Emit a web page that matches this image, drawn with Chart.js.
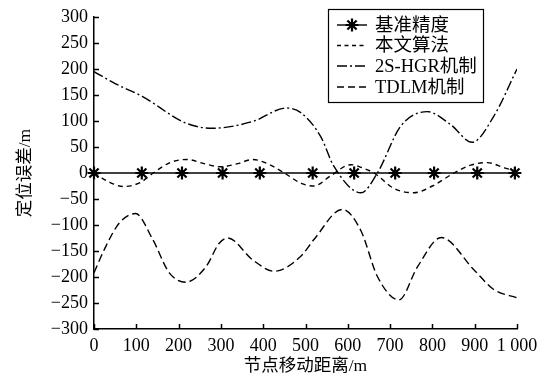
<!DOCTYPE html>
<html>
<head>
<meta charset="utf-8">
<script src="https://cdn.jsdelivr.net/npm/chart.js@4/dist/chart.umd.min.js"></script>
<style>
  html, body { margin: 0; padding: 0; background: #fff; }
  #wrap { width: 552px; height: 380px; position: relative; }
</style>
</head>
<body>
<div id="wrap"><canvas id="c" width="552" height="380"></canvas></div>
<script>
// ---- data ----
const seriesNames = ['基准精度', '本文算法', '2S-HGR机制', 'TDLM机制'];

const baseX = [0, 113, 208, 304, 392, 517, 615, 712, 804, 906, 995];
const baseY = [0, 0, 0, 0, 0, 0, 0, 0, 0, 0, 0];

const oursX = [0, 35, 70, 110, 140, 180, 220, 260, 300, 340, 375, 410, 450, 490, 520, 560, 607, 640, 662, 710, 756, 800, 851, 890, 930, 970, 1000];
const oursY = [0, -17, -26, -18, 0, 20, 26, 18, 12, 18, 26, 18, 0, -20, -25, -5, 16, 8, 0, -30, -38, -25, 0, 15, 20, 10, 3];

const hgrX = [0, 50, 115, 217, 280, 375, 455, 489, 536, 567, 631, 670, 725, 788, 843, 894, 945, 1000];
const hgrY = [195, 172, 147, 96, 86, 99, 125, 116, 70, 13, -38, 0, 90, 118, 93, 59, 109, 200];

const tdlmX = [0, 28, 60, 98, 139, 178, 217, 265, 296, 316, 375, 426, 489, 520, 587, 631, 670, 721, 765, 821, 898, 945, 1000];
const tdlmY = [-192, -141, -96, -78, -128, -192, -210, -180, -135, -125, -167, -189, -160, -128, -70, -111, -199, -244, -180, -124, -186, -224, -240];

const xTicks = [0, 100, 200, 300, 400, 500, 600, 700, 800, 900, 1000];
const xTickLabels = ['0', '100', '200', '300', '400', '500', '600', '700', '800', '900', '1 000'];
const yTicks = [-300, -250, -200, -150, -100, -50, 0, 50, 100, 150, 200, 250, 300];

const xTitle = '节点移动距离/m';
const yTitle = '定位误差/m';

// ---- styling ----
const FONT = '"Liberation Serif", "Times New Roman", "Noto Sans CJK SC", serif';
const toPts = (xs, ys) => xs.map((x, i) => ({ x: x, y: ys[i] }));

const styles = [
  { dash: [], pointStyle: 'star', radius: 6.5 },
  { dash: [5, 4], pointStyle: false, radius: 0 },
  { dash: [10, 3, 2, 3], pointStyle: false, radius: 0 },
  { dash: [8, 4], pointStyle: false, radius: 0 }
];
const seriesData = [toPts(baseX, baseY), toPts(oursX, oursY), toPts(hgrX, hgrY), toPts(tdlmX, tdlmY)];

const datasets = seriesNames.map((name, i) => ({
  label: name,
  data: seriesData[i],
  borderColor: '#000',
  backgroundColor: '#000',
  borderWidth: i === 0 ? 1.5 : 1.4,
  borderDash: styles[i].dash,
  pointStyle: styles[i].pointStyle || 'circle',
  pointRadius: styles[i].radius,
  pointHoverRadius: styles[i].radius,
  pointBorderWidth: 2.2,
  pointBorderColor: '#000',
  cubicInterpolationMode: i === 0 ? 'default' : 'monotone',
  tension: i === 0 ? 0 : 0.4,
  clip: i === 0 ? false : undefined,
  fill: false
}));

// inside ticks + custom legend
const decor = {
  id: 'decor',
  afterDraw(chart) {
    const ctx = chart.ctx;
    const a = chart.chartArea;
    const xs = chart.scales.x, ys = chart.scales.y;
    ctx.save();
    ctx.strokeStyle = '#000';
    ctx.lineWidth = 1.5;
    ctx.setLineDash([]);
    ctx.beginPath();
    yTicks.forEach(v => {
      const py = Math.round(ys.getPixelForValue(v)) + 0.5;
      ctx.moveTo(a.left, py); ctx.lineTo(a.left + 5, py);
    });
    xTicks.forEach(v => {
      const px = Math.round(xs.getPixelForValue(v)) + 0.5;
      ctx.moveTo(px, a.bottom); ctx.lineTo(px, a.bottom - 5);
    });
    ctx.stroke();

    // legend box
    const bx = 328.5, by = 9.5, bw = 155, bh = 93;
    ctx.fillStyle = '#fff';
    ctx.fillRect(bx, by, bw, bh);
    ctx.lineWidth = 1.2;
    ctx.strokeRect(bx, by, bw, bh);
    const rowsY = [25, 45.5, 66, 87];
    const lx0 = 337, lx1 = 367, tx = 375;
    ctx.font = '18.5px ' + FONT;
    ctx.textBaseline = 'middle';
    ctx.textAlign = 'left';
    seriesNames.forEach((name, i) => {
      const y = rowsY[i];
      ctx.setLineDash(i === 1 ? [4, 3.5] : i === 2 ? [10, 3, 2, 3] : i === 3 ? [7, 4] : []);
      ctx.lineWidth = 1.4;
      ctx.beginPath();
      ctx.moveTo(lx0, y); ctx.lineTo(lx1, y);
      ctx.stroke();
      ctx.setLineDash([]);
      if (i === 0) {
        ctx.lineWidth = 2.2;
        Chart.helpers.drawPoint(ctx, { pointStyle: 'star', radius: 6.5, rotation: 0, borderWidth: 2.2 }, (lx0 + lx1) / 2, y);
      }
      ctx.fillStyle = '#000';
      ctx.fillText(name, tx, y + 1);
    });
    ctx.restore();
  }
};

new Chart(document.getElementById('c'), {
  type: 'line',
  data: { datasets: datasets },
  plugins: [decor],
  options: {
    responsive: false,
    animation: false,
    events: [],
    layout: { padding: { top: 17, right: 35, left: 0, bottom: 0 } },
    plugins: { legend: { display: false }, tooltip: { enabled: false } },
    scales: {
      x: {
        type: 'linear',
        min: 0, max: 1000,
        afterBuildTicks(scale) { scale.ticks = xTicks.map(v => ({ value: v })); },
        afterFit(scale) { scale.height = 51; },
        grid: { display: false, drawTicks: false },
        border: { display: true, color: '#000', width: 1.5 },
        ticks: {
          color: '#000', padding: 6, maxRotation: 0, autoSkip: false,
          font: { family: FONT, size: 18 },
          callback: (v) => xTickLabels[xTicks.indexOf(v)]
        },
        title: {
          display: true, text: xTitle, color: '#000',
          font: { family: FONT, size: 17.5, lineHeight: 1.2 },
          padding: { top: 3, bottom: 3 }
        }
      },
      y: {
        type: 'linear',
        min: -300, max: 300,
        afterBuildTicks(scale) { scale.ticks = yTicks.map(v => ({ value: v })); },
        afterFit(scale) { scale.width = 94; },
        grid: { display: false, drawTicks: false },
        border: { display: true, color: '#000', width: 1.5 },
        ticks: {
          color: '#000', padding: 6, autoSkip: false,
          font: { family: FONT, size: 18 },
          callback: (v) => (v < 0 ? '\u2212' + Math.abs(v) : String(v))
        },
        title: {
          display: true, text: yTitle, color: '#000',
          font: { family: FONT, size: 17.5, lineHeight: 1.2 },
          padding: { top: 15, bottom: 15 }
        }
      }
    }
  }
});
</script>
</body>
</html>
